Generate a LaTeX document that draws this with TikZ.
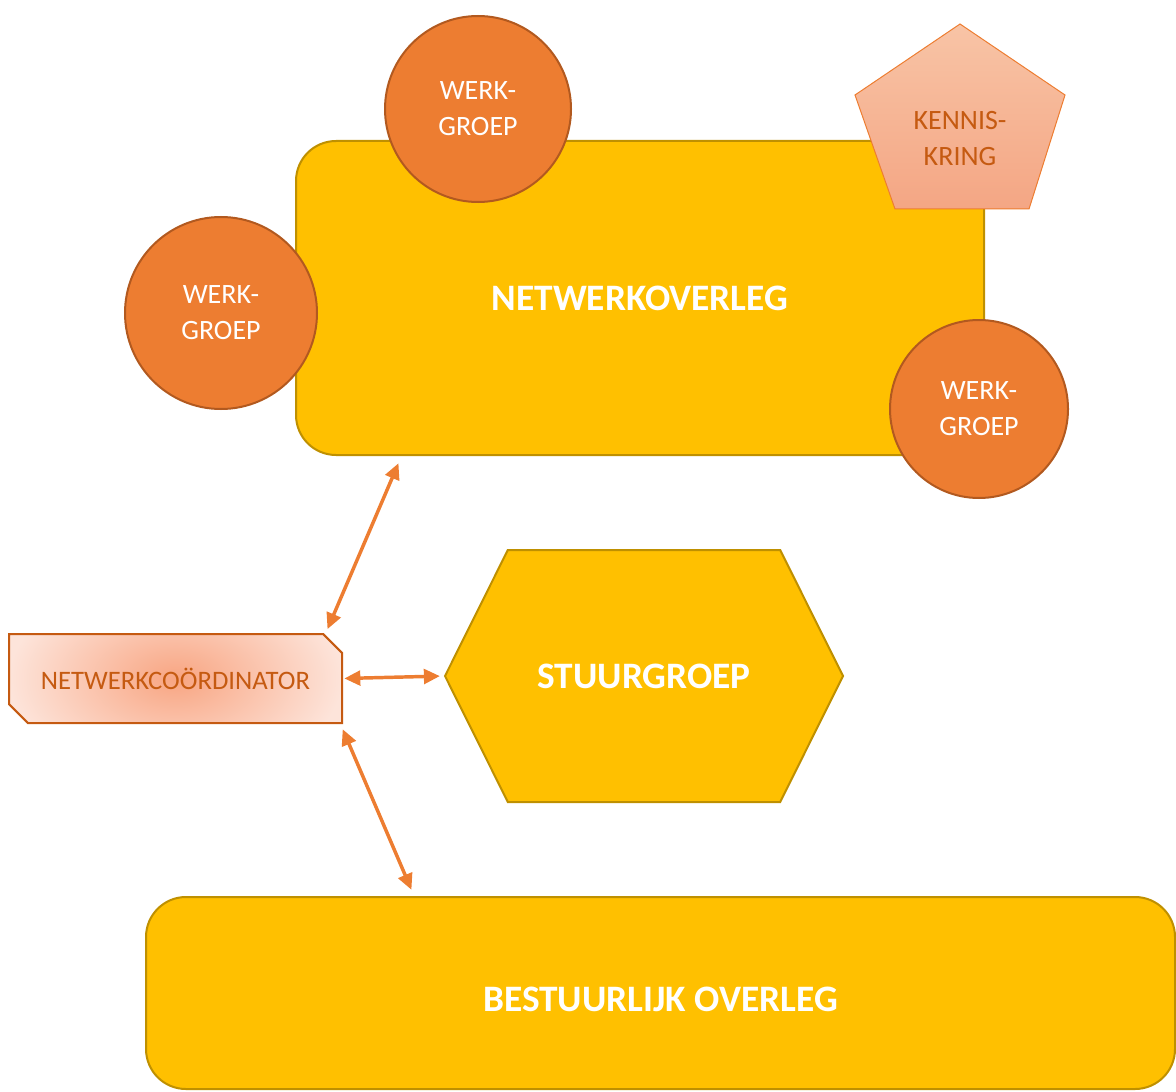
\documentclass[tikz,border=0pt]{standalone}
\usepackage{fontspec}
\setmainfont{Carlito}
\usepackage{tikz}
\usetikzlibrary{arrows.meta, positioning, shapes.misc, shapes.symbols}
\definecolor{colorOverleg}{HTML}{FFC000}
\definecolor{colorOverlegRand}{HTML}{BF9000}
\definecolor{colorGroep}{HTML}{ED7D31}
\definecolor{colorGroepRand}{HTML}{B2591F}
\definecolor{colorKring}{HTML}{C55A11}
\definecolor{colorKringTop}{HTML}{F8C4A6}
\definecolor{colorKringBodem}{HTML}{F4A684}
\definecolor{colorCoordBinnen}{HTML}{F8A582}
\definecolor{colorCoordBuiten}{HTML}{FDE4DA}
\tikzset{
  overleg/.style={draw=colorOverlegRand, fill=colorOverleg, line width=1.5pt, rounded corners=30pt, text=white, font=\fontsize{28}{33}\selectfont\bfseries},
  werkgroep/.style={circle, draw=colorGroepRand, fill=colorGroep, line width=1.5pt, text=white, align=center, font=\fontsize{21}{27}\selectfont},
  pijl/.style={<->, >={Triangle[length=12pt,width=11pt]}, draw=colorGroep, line width=2.6pt, shorten <=1pt, shorten >=1pt}
}

\begin{document}
\begin{tikzpicture}[x=0.75pt, y=-0.75pt]
\useasboundingbox (0,0) rectangle (1176,1091);

\node[overleg, minimum width=516pt, minimum height=235.5pt] (netwerkoverleg) at (640,298) {NETWERKOVERLEG};

\node[werkgroep, minimum size=139.5pt] (werkgroepTop) at (478,109) {WERK-\\GROEP};
\node[werkgroep, minimum size=144pt] (werkgroepLinks) at (221,313) {WERK-\\GROEP};
\node[werkgroep, minimum size=133.5pt] (werkgroepRechts) at (979,409) {WERK-\\GROEP};

% kenniskring
\shade[draw=colorGroep, line width=0.75pt, top color=colorKringTop, bottom color=colorKringBodem]
  (960,24) -- (1065,95) -- (1029,209) -- (895,209) -- (855,95) -- cycle;
\node[text=colorKring, align=center, font=\fontsize{21}{27}\selectfont] (kenniskring) at (960,139) {KENNIS-\\KRING};

\node[chamfered rectangle, chamfered rectangle corners={north east, south west}, chamfered rectangle xsep=11pt,
  draw=colorKring, line width=1.5pt, fill=colorCoordBuiten,
  path picture={\shade[inner color=colorCoordBinnen, outer color=colorCoordBuiten]
    (path picture bounding box.center) ellipse (125pt and 75pt);},
  minimum width=249.75pt, minimum height=66.75pt, text=colorKring, font=\fontsize{20}{24}\selectfont]
  (netwerkcoordinator) at (175.5,678.5) {NETWERKCOÖRDINATOR};

\node[signal, signal to=east and west, signal pointer angle=127, draw=colorOverlegRand, fill=colorOverleg,
  line width=1.5pt, minimum width=298.5pt, minimum height=189pt, text=white, font=\fontsize{28}{33}\selectfont\bfseries]
  (stuurgroep) at (644,676) {STUURGROEP};

\node[overleg, minimum width=771.75pt, minimum height=144pt] (bestuurlijk) at (660.5,993) {\raisebox{-14pt}[0pt][0pt]{BESTUURLIJK OVERLEG}};

\draw[pijl] ([xshift=113.6pt,yshift=2pt]netwerkcoordinator.north) -- ([xshift=-180.75pt,yshift=-4.5pt]netwerkoverleg.south);
\draw[pijl, shorten >=3pt] (netwerkcoordinator.east) -- (stuurgroep.west);
\draw[pijl] ([xshift=125pt,yshift=-3pt]netwerkcoordinator.south) -- ([xshift=-186.4pt,yshift=3.75pt]bestuurlijk.north);
\end{tikzpicture}
\end{document}
